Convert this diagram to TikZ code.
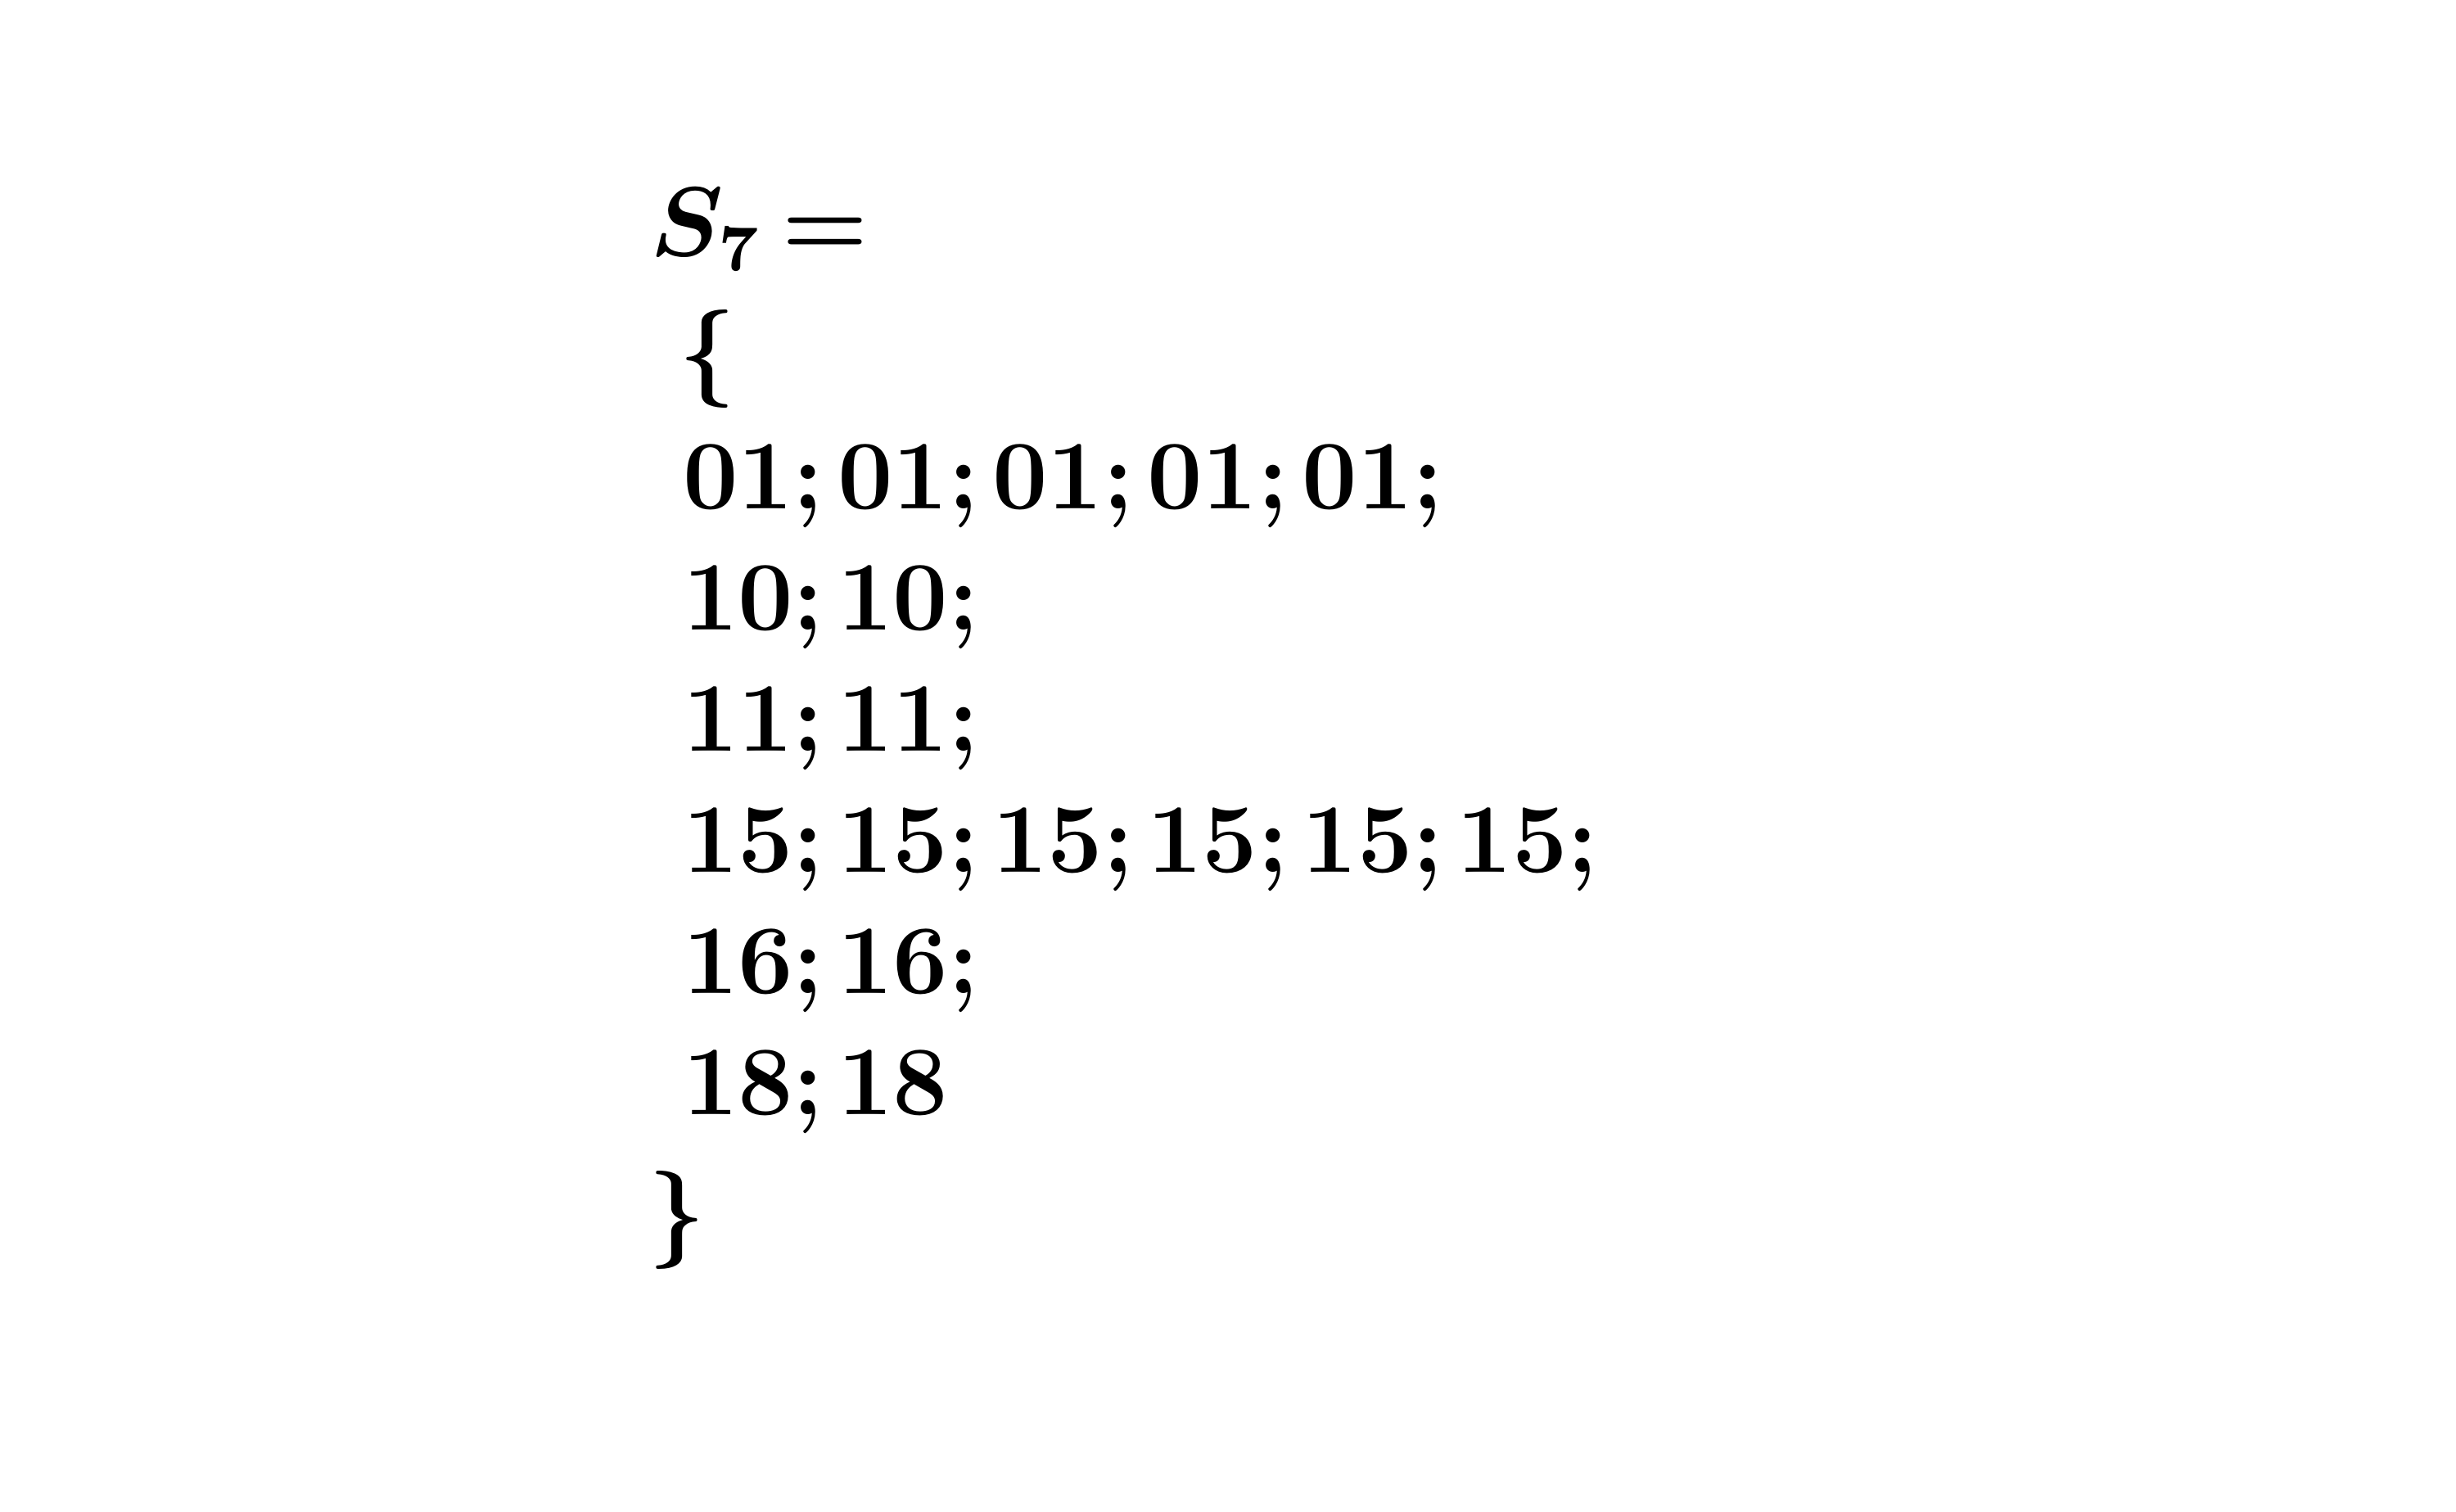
\documentclass[tikz,border=0pt]{standalone}
\newcommand\mysp{\thinmuskip=2.2mu plus 0mu\relax\thickmuskip=3.2mu plus 0mu\relax}
\begin{document}
\begin{tikzpicture}[x=1pt,y=1pt,
  txt/.style={anchor=base west,inner sep=0pt,outer sep=0pt,
    font=\fontsize{12pt}{14pt}\selectfont\boldmath\mysp}]
\useasboundingbox (0,0) rectangle (300,-184.7);
\node[txt] (s)   at (79.4,-31.2)  {$S_7=$};
\node[txt] (ob)  at (82.9,-46.8)  {$\{$};
\node[txt] (r1)  at (83.4,-62.1)  {$01;01;01;01;01;$};
\node[txt] (r2)  at (83.4,-76.9)  {$10;10;$};
\node[txt] (r3)  at (83.4,-91.7)  {$11;11;$};
\node[txt] (r4)  at (83.4,-106.5) {$15;15;15;15;15;15;$};
\node[txt] (r5)  at (83.4,-121.3) {$16;16;$};
\node[txt] (r6)  at (83.4,-136.1) {$18;18$};
\node[txt] (cb)  at (79.2,-152.0) {$\}$};
\end{tikzpicture}
\end{document}
